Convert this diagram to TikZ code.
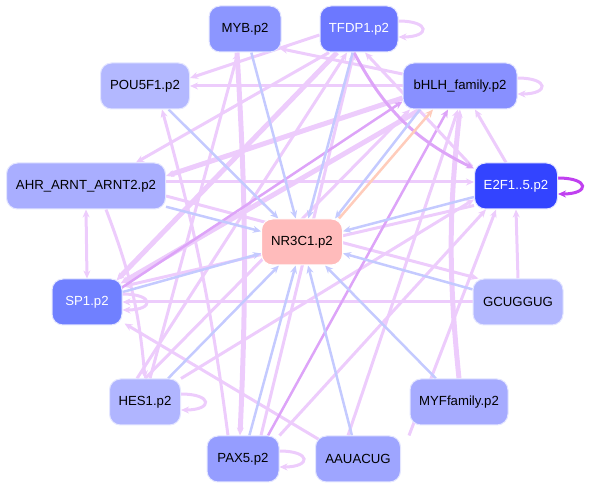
\documentclass[tikz,border=0pt]{standalone}
\usepackage{fontspec}
\setmainfont{Liberation Sans}
\usetikzlibrary{arrows.meta,backgrounds}
\definecolor{pinkE}{HTML}{EDCCFC}
\definecolor{purpE}{HTML}{DDA4F8}
\definecolor{blueE}{HTML}{C4CAFF}
\definecolor{salE}{HTML}{FFCCBB}
\definecolor{loopE}{HTML}{C040F0}
\definecolor{rim}{HTML}{E4E6FF}
\begin{document}
\begin{tikzpicture}[x=1pt, y=-1pt, >={Stealth[length=8pt,width=7pt]},
    tf/.style={draw=rim, line width=1pt, rounded corners=11pt, minimum height=46pt,
      inner sep=0pt, font=\fontsize{13.2}{15}\selectfont},
    pe/.style={draw=pinkE, line width=3pt, ->},
    pthick/.style={draw=pinkE, line width=5pt, ->},
    pu/.style={draw=purpE, line width=2.5pt, ->},
    be/.style={draw=blueE, line width=2.5pt, ->},
    se/.style={draw=salE, line width=2.5pt, ->}]
  \useasboundingbox (0,0) rectangle (590,489);

  % knoten
  \node[tf, fill={rgb,255:red,140;green,150;blue,255}, minimum width=72pt] (MYB) at (245,29) {MYB.p2};
  \node[tf, fill={rgb,255:red,108;green,120;blue,255}, text=white, minimum width=78pt] (TFDP1) at (359,29) {TFDP1.p2};
  \node[tf, fill={rgb,255:red,179;green,184;blue,255}, minimum width=89pt] (POU5F1) at (145,86) {POU5F1.p2};
  \node[tf, fill={rgb,255:red,136;green,144;blue,255}, minimum width=114pt] (bHLH) at (460,86) {bHLH\_family.p2};
  \node[tf, fill={rgb,255:red,169;green,174;blue,255}, minimum width=159pt] (AHR) at (86,186) {AHR\_ARNT\_ARNT2.p2};
  \node[tf, fill={rgb,255:red,51;green,68;blue,255}, text=white, minimum width=83pt] (E2F) at (516,186) {E2F1..5.p2};
  \node[tf, fill={rgb,255:red,255;green,187;blue,187}, draw=white, minimum width=81pt] (NR3C1) at (302,242) {NR3C1.p2};
  \node[tf, fill={rgb,255:red,112;green,128;blue,255}, text=white, minimum width=70pt] (SP1) at (87,302) {SP1.p2};
  \node[tf, fill={rgb,255:red,179;green,184;blue,255}, minimum width=90pt] (GCUGGUG) at (518,302) {GCUGGUG};
  \node[tf, fill={rgb,255:red,176;green,181;blue,255}, minimum width=71pt] (HES1) at (145,402) {HES1.p2};
  \node[tf, fill={rgb,255:red,166;green,171;blue,255}, minimum width=98pt] (MYF) at (459,402) {MYFfamily.p2};
  \node[tf, fill={rgb,255:red,149;green,157;blue,255}, minimum width=72pt] (PAX5) at (243,459) {PAX5.p2};
  \node[tf, fill={rgb,255:red,158;green,165;blue,255}, minimum width=85pt] (AAUACUG) at (358,459) {AAUACUG};

  \begin{pgfonlayer}{background}
  % rosa kanten
  \draw[pe] ([yshift=4pt]AHR.east) -- ([yshift=4pt]E2F.west);
  \draw[pe] ([yshift=-10pt]AHR.east) -- ([xshift=6pt]GCUGGUG.north west);
  \draw[pe, <->] (AHR.south) -- (SP1.north);
  \draw[pe] ([xshift=-60pt]AHR.south east) to[bend left=8] (HES1.north);
  \draw[pe] (bHLH.west) -- (POU5F1.east);
  \draw[pe] ([yshift=-6pt]TFDP1.west) -- ([yshift=8pt]POU5F1.east);
  \draw[pe] ([yshift=12pt]bHLH.west) -- ([xshift=-2pt,yshift=4pt]MYB.south east);
  \draw[pe] ([xshift=5pt]HES1.north) -- ([xshift=-7pt]MYB.south);
  \draw[pthick] ([xshift=-8pt]MYB.south) to[bend left=3] ([xshift=-3pt]PAX5.north);
  \draw[pe] ([xshift=-15pt]PAX5.north) to[bend right=4] ([xshift=17pt]POU5F1.south);
  \draw[pthick] ([yshift=-12pt]bHLH.west) -- ([yshift=10pt]AHR.east);
  \draw[pe] ([xshift=-30pt]TFDP1.south) -- ([xshift=50pt]AHR.north);
  \draw[pthick] ([xshift=-22pt]TFDP1.south) -- ([xshift=-6pt,yshift=-2pt]SP1.north east);
  \draw[pthick] ([xshift=18pt]bHLH.south west) -- ([xshift=-2pt,yshift=-5pt]SP1.north east);
  \draw[pe] ([yshift=4pt]E2F.south west) -- ([yshift=-8pt]SP1.north east);
  \draw[pe] (GCUGGUG.west) -- (SP1.east);
  \draw[pe] ([xshift=4pt,yshift=-4pt]AAUACUG.north west) -- ([xshift=2pt,yshift=2pt]SP1.south east);
  \draw[pe] ([xshift=-8pt]HES1.north) -- ([xshift=-12pt]TFDP1.south);
  \draw[pe] ([xshift=0pt]HES1.north) -- ([xshift=-50pt]bHLH.south);
  \draw[pe] (HES1.north east) -- ([yshift=10pt]E2F.south west);
  \draw[pe] ([xshift=18pt]PAX5.north) -- ([xshift=-5pt]TFDP1.south);
  \draw[pu] ([xshift=25pt]PAX5.north) -- ([xshift=-12pt]bHLH.south);
  \draw[pe] (PAX5.north east) -- ([xshift=12pt]E2F.south west);
  \draw[pe] ([xshift=-10pt]AAUACUG.north) -- ([xshift=-2pt]bHLH.south);
  \draw[pe] ([xshift=8pt]AAUACUG.north east) -- ([xshift=-20pt]E2F.south);
  \draw[pthick] (MYF.north) to[bend left=6] ([xshift=0pt]bHLH.south);
  \draw[pe] (GCUGGUG.north) -- (E2F.south);
  \draw[pe] ([xshift=-10pt]E2F.north) -- ([xshift=15pt]bHLH.south);
  \draw[pe] ([xshift=-2pt,yshift=-4pt]E2F.north west) -- ([xshift=6pt]TFDP1.south);
  \draw[pu, line width=3pt] ([xshift=-5pt]TFDP1.south) to[bend right=18] ([yshift=-6pt]E2F.north west);
  \draw[pu] ([xshift=-2pt,yshift=-10pt]SP1.north east) -- ([yshift=8pt]bHLH.south west);

  % blaue kanten zu NR3C1
  \foreach \src in {MYB, TFDP1, POU5F1, AHR, SP1, HES1, PAX5, AAUACUG, MYF, GCUGGUG, E2F}
    \draw[be] (\src) -- (NR3C1);
  \draw[be] ([xshift=-40pt]bHLH.south) -- ([xshift=-8pt]NR3C1.north east);
  \draw[se] ([xshift=-4pt]NR3C1.north east) -- ([xshift=-27pt]bHLH.south);

  % schleifen
  \draw[pe] ([yshift=8pt]TFDP1.east) .. controls +(32,0) and +(32,0) .. ([yshift=-8pt]TFDP1.east);
  \draw[pe] ([yshift=8pt]bHLH.east) .. controls +(32,0) and +(32,0) .. ([yshift=-8pt]bHLH.east);
  \draw[draw=loopE, line width=3pt, ->] ([yshift=8pt]E2F.east) .. controls +(32,0) and +(32,0) .. ([yshift=-8pt]E2F.east);
  \draw[pe] ([yshift=8pt]SP1.east) .. controls +(32,0) and +(32,0) .. ([yshift=-8pt]SP1.east);
  \draw[pe] ([yshift=8pt]HES1.east) .. controls +(32,0) and +(32,0) .. ([yshift=-8pt]HES1.east);
  \draw[pe] ([yshift=8pt]PAX5.east) .. controls +(32,0) and +(32,0) .. ([yshift=-8pt]PAX5.east);
  \end{pgfonlayer}
\end{tikzpicture}
\end{document}
